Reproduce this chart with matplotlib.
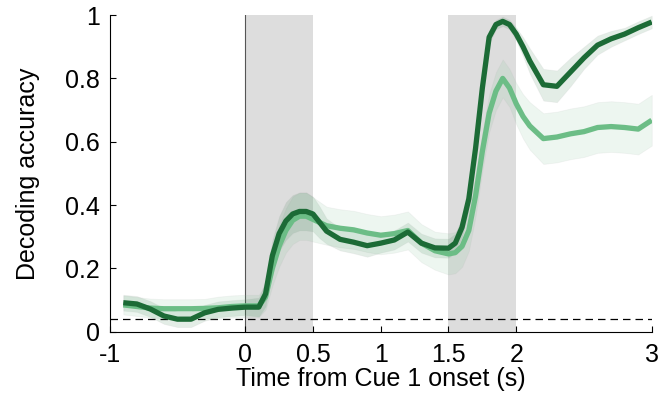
import numpy as np
import matplotlib
matplotlib.use('Agg')
from matplotlib import pyplot as plt

plt.rcParams['font.family'] = ['Liberation Sans', 'DejaVu Sans']

# time points (s) and decoding accuracy for the two conditions
times = [-0.9, -0.8, -0.7, -0.6, -0.5, -0.4, -0.3, -0.2, -0.1, 0.0,
         0.1, 0.15, 0.2, 0.25, 0.3, 0.35, 0.4, 0.45, 0.5, 0.55,
         0.6, 0.7, 0.8, 0.9, 1.0, 1.1, 1.2, 1.3, 1.4, 1.5,
         1.55, 1.6, 1.65, 1.7, 1.75, 1.8, 1.85, 1.9, 1.95, 2.0,
         2.05, 2.1, 2.2, 2.3, 2.4, 2.5, 2.6, 2.7, 2.8, 2.9, 3.0]

dark = [0.092, 0.088, 0.072, 0.050, 0.040, 0.040, 0.060, 0.071, 0.075, 0.078,
        0.078, 0.120, 0.240, 0.310, 0.350, 0.372, 0.380, 0.380, 0.372, 0.345,
        0.318, 0.292, 0.283, 0.272, 0.280, 0.290, 0.315, 0.280, 0.265, 0.264,
        0.280, 0.330, 0.420, 0.580, 0.770, 0.930, 0.970, 0.980, 0.970, 0.940,
        0.900, 0.855, 0.780, 0.775, 0.820, 0.865, 0.905, 0.925, 0.940, 0.960, 0.978]

light = [0.085, 0.080, 0.075, 0.073, 0.073, 0.073, 0.074, 0.076, 0.080, 0.082,
         0.082, 0.110, 0.200, 0.270, 0.320, 0.352, 0.365, 0.365, 0.355, 0.345,
         0.335, 0.327, 0.322, 0.312, 0.305, 0.310, 0.320, 0.280, 0.256, 0.246,
         0.250, 0.270, 0.320, 0.430, 0.570, 0.690, 0.760, 0.800, 0.770, 0.720,
         0.680, 0.650, 0.610, 0.615, 0.625, 0.632, 0.645, 0.648, 0.645, 0.640, 0.668]

# error band half widths
dark_err = [0.025, 0.025, 0.025, 0.025, 0.025, 0.025, 0.025, 0.025, 0.025, 0.025,
            0.03, 0.04, 0.05, 0.055, 0.06, 0.06, 0.06, 0.06, 0.055, 0.05,
            0.04, 0.035, 0.035, 0.035, 0.03, 0.03, 0.03, 0.03, 0.03, 0.03,
            0.03, 0.03, 0.03, 0.03, 0.025, 0.02, 0.015, 0.015, 0.015, 0.02,
            0.03, 0.04, 0.05, 0.05, 0.045, 0.035, 0.03, 0.025, 0.02, 0.02, 0.02]

light_err = [0.03, 0.03, 0.03, 0.03, 0.03, 0.03, 0.03, 0.035, 0.035, 0.035,
             0.035, 0.04, 0.055, 0.065, 0.07, 0.075, 0.075, 0.075, 0.07, 0.065,
             0.06, 0.06, 0.06, 0.06, 0.06, 0.06, 0.06, 0.06, 0.06, 0.065,
             0.065, 0.065, 0.065, 0.065, 0.06, 0.06, 0.06, 0.06, 0.06, 0.065,
             0.07, 0.075, 0.08, 0.08, 0.08, 0.08, 0.08, 0.08, 0.08, 0.08, 0.08]

chance = 1 / 24
cue_windows = [(0, 0.5), (1.5, 2)]
xticks = [-1, 0, 0.5, 1, 1.5, 2, 3]
xticklabels = ['-1', '0', '0.5', '1', '1.5', '2', '3']
yticks = [0, 0.2, 0.4, 0.6, 0.8, 1]
yticklabels = ['0', '0.2', '0.4', '0.6', '0.8', '1']

dark_c = '#1c6b36'
light_c = '#6cbd86'

fig = plt.figure(figsize=(6.61, 3.96), dpi=100)
ax = fig.add_axes([0.166, 0.162, 0.82, 0.80])

for a, b in cue_windows:
    ax.axvspan(a, b, color='#dddddd', lw=0, zorder=0)
ax.axvline(0, color='#555555', lw=0.8, zorder=1)
ax.axhline(chance, color='black', lw=0.9, ls=(0, (6, 4)), zorder=1)

t = np.array(times)
for vals, err, c in [(light, light_err, light_c), (dark, dark_err, dark_c)]:
    v = np.array(vals)
    e = np.array(err)
    ax.fill_between(t, v - e, v + e, facecolor=c, alpha=0.12,
                    edgecolor='#b0b0b0', linewidth=0.6, zorder=2)

ax.plot(t, light, color=light_c, lw=3.8, zorder=3, solid_capstyle='butt')
ax.plot(t, dark, color=dark_c, lw=3.8, zorder=4, solid_capstyle='butt')

ax.set_xlim(-1, 3)
ax.set_ylim(0, 1)
ax.set_xticks(xticks)
ax.set_xticklabels(xticklabels)
ax.set_yticks(yticks)
ax.set_yticklabels(yticklabels)
ax.tick_params(direction='in', length=4, width=0.8, labelsize=18, colors='black')
ax.tick_params(axis='y', pad=7)
ax.tick_params(axis='x', pad=8)
ax.spines['top'].set_visible(False)
ax.spines['right'].set_visible(False)
ax.spines['left'].set_linewidth(0.8)
ax.spines['bottom'].set_linewidth(0.8)
ax.set_xlabel('Time from Cue 1 onset (s)', fontsize=18, labelpad=0)
ax.set_ylabel('Decoding accuracy', fontsize=18, labelpad=18)

plt.savefig('out.png', dpi=100)
